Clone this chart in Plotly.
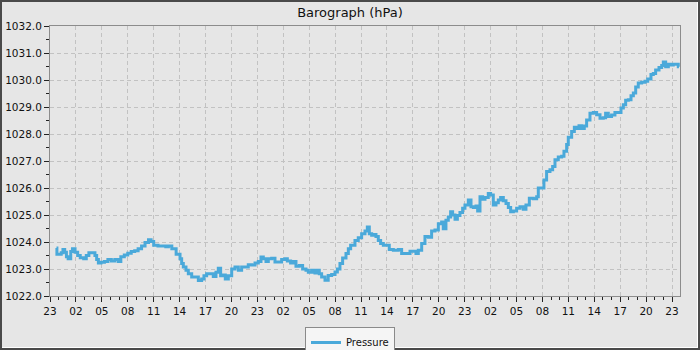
import pandas as pd
import plotly.graph_objects as go

# ---- data (hours after the first 23:00 tick, pressure hPa) ----
hours = [
    0.75, 0.8, 1.0, 1.3, 1.5, 1.7, 1.9, 2.1, 2.4, 2.6, 2.9, 3.2, 3.5, 3.9, 4.2, 4.5, 4.9, 5.2, 5.4, 5.6,
    5.9, 6.3, 6.7, 7.1, 7.5, 7.9, 8.2, 8.6, 9.0, 9.4, 9.8, 10.2, 10.6, 11.0, 11.4, 11.7, 12.0, 12.5, 13.0, 13.4,
    13.7, 14.1, 14.6, 15.05,
    15.24, 15.43, 15.74, 16.01, 16.4, 16.78, 17.17, 17.55, 17.82, 18.13, 18.52, 18.9, 19.21, 19.48, 19.75, 20.06,
    20.29, 20.64, 21.03, 21.41, 21.8, 22.18, 22.57, 22.95, 23.34, 23.73, 24.11, 24.42, 24.69, 25.0, 25.27, 25.66,
    26.04, 26.43, 26.81, 27.2, 27.47, 27.85, 28.16, 28.47, 28.86, 29.24, 29.63, 29.9, 30.28, 30.59,
    30.67, 30.94, 31.17, 31.44, 31.83, 32.2, 32.6, 32.99, 33.26, 33.56, 33.87, 34.26, 34.53, 34.8, 35.3, 35.68,
    36.07, 36.46, 36.73, 36.96, 37.23, 37.5, 37.73, 38.0, 38.27, 38.58, 38.97, 39.27, 39.74, 40.32, 40.7, 41.28,
    41.67, 42.05, 42.36, 42.63, 43.02, 43.4, 43.79, 44.17, 44.56, 44.95, 45.33,
    45.52, 45.83, 46.1, 46.37, 46.6, 46.88, 47.15, 47.45, 47.76, 48.03, 48.42, 48.73, 49.0, 49.31, 49.5, 49.77,
    50.08, 50.35, 50.73, 51.0, 51.31, 51.62, 51.89, 52.16, 52.47, 52.78, 53.05, 53.32, 53.63, 54.01, 54.4, 54.78,
    55.09, 55.48, 55.94, 56.33, 56.52, 56.9, 57.17, 57.48, 57.87, 58.18, 58.45, 58.83, 59.22, 59.49, 59.8,
    59.99, 60.38, 60.69, 60.96, 61.23, 61.53, 61.84, 62.11, 62.5, 62.89, 63.27, 63.66, 64.04, 64.31, 64.62, 65.0,
    65.39, 65.78, 66.09, 66.36, 66.63, 66.94, 67.25, 67.52, 67.79, 68.09, 68.48, 68.87, 69.18, 69.56, 69.83, 70.1,
    70.49, 70.8, 70.99, 71.26, 71.57, 71.88, 72.14, 72.53, 72.72, 72.8,
]
pressure = [
    1023.78, 1023.55, 1023.55, 1023.6, 1023.72, 1023.62, 1023.45, 1023.38, 1023.65, 1023.75, 1023.62, 1023.5,
    1023.42, 1023.38, 1023.5, 1023.6, 1023.6, 1023.5, 1023.35, 1023.22, 1023.25, 1023.28, 1023.35, 1023.3,
    1023.35, 1023.28, 1023.45, 1023.52, 1023.58, 1023.65, 1023.68, 1023.75, 1023.85, 1023.98, 1024.08, 1024.02,
    1023.88, 1023.85, 1023.85, 1023.82, 1023.85, 1023.75, 1023.55, 1023.38,
    1023.2, 1023.07, 1022.95, 1022.82, 1022.7, 1022.7, 1022.57, 1022.63, 1022.75, 1022.82, 1022.82, 1022.72,
    1022.88, 1023.03, 1022.75, 1022.78, 1022.63, 1022.75, 1023.0, 1023.07, 1022.95, 1023.07, 1023.07, 1023.16,
    1023.15, 1023.22, 1023.28, 1023.44, 1023.38, 1023.28, 1023.38, 1023.4, 1023.26, 1023.26, 1023.35, 1023.38,
    1023.3, 1023.22, 1023.28, 1023.1, 1023.13, 1023.0, 1022.95, 1022.88, 1022.95, 1022.88,
    1022.85, 1022.95, 1022.82, 1022.7, 1022.58, 1022.76, 1022.8, 1022.89, 1023.0, 1023.2, 1023.41, 1023.57,
    1023.75, 1023.88, 1024.06, 1024.16, 1024.31, 1024.41, 1024.56, 1024.31, 1024.25, 1024.28, 1024.2, 1024.06,
    1023.94, 1023.88, 1023.88, 1023.72, 1023.69, 1023.72, 1023.57, 1023.57, 1023.66, 1023.66, 1023.57, 1023.69,
    1023.94, 1024.2, 1024.18, 1024.41, 1024.44, 1024.68, 1024.74,
    1024.49, 1024.81, 1024.93, 1025.12, 1025.0, 1024.84, 1024.98, 1025.09, 1025.25, 1025.37, 1025.56, 1025.31,
    1025.28, 1025.33, 1025.15, 1025.68, 1025.58, 1025.65, 1025.8, 1025.74, 1025.37, 1025.45, 1025.56, 1025.65,
    1025.53, 1025.43, 1025.28, 1025.12, 1025.15, 1025.25, 1025.31, 1025.21, 1025.37, 1025.62, 1025.6, 1025.68,
    1026.0, 1026.0, 1026.3, 1026.61, 1026.68, 1026.8, 1027.05, 1027.15, 1027.18, 1027.36, 1027.61,
    1027.88, 1028.09, 1028.25, 1028.2, 1028.31, 1028.2, 1028.3, 1028.52, 1028.77, 1028.8, 1028.71, 1028.58,
    1028.6, 1028.77, 1028.65, 1028.7, 1028.8, 1028.8, 1028.96, 1029.08, 1029.25, 1029.27, 1029.42, 1029.52,
    1029.74, 1029.89, 1029.92, 1029.95, 1030.04, 1030.2, 1030.24, 1030.37, 1030.46, 1030.54, 1030.67, 1030.49,
    1030.58, 1030.56, 1030.58, 1030.58, 1030.49, 1030.49,
]
series_name = "Pressure"
title_text = "Barograph (hPa)"
start_time = "2024-03-10 23:00"
span_hours = 72.92
y_range = [1022.0, 1032.0]

base = pd.Timestamp(start_time)
times = base + pd.to_timedelta(hours, unit="h")

W, H = 700, 350
ML, MR, MT, MB = 50, 20, 26, 54
PW, PH = W - ML - MR, H - MT - MB


def px_x(px):
    return (px - ML) / PW


def px_y(py):
    return (H - MB - py) / PH


BG = "#e6e6e6"
LINE = "#4aa9da"
GRID = "#c2c2c2"
AXIS = "#8c8c8c"
FONT = "DejaVu Sans"

fig = go.Figure()
fig.add_trace(go.Scatter(
    x=times, y=pressure, mode="lines", name=series_name,
    line=dict(color=LINE, width=3, shape="hv"),
    showlegend=True,
))

fig.update_layout(
    width=W, height=H,
    margin=dict(l=ML, r=MR, t=MT, b=MB, pad=0, autoexpand=False),
    paper_bgcolor=BG, plot_bgcolor=BG,
    font=dict(family=FONT, size=10.5, color="#111111"),
    title=dict(text=title_text, x=0.5, xref="container", xanchor="center",
               y=1 - 12.5 / H, yref="container", yanchor="middle",
               font=dict(family=FONT, size=13, color="#111111"),
               automargin=False),
    showlegend=True,
    legend=dict(orientation="h", x=0.5, xref="container", xanchor="center",
                y=1 - 327 / H, yref="container", yanchor="top",
                bgcolor="#f5f5f5", bordercolor="#8a8a8a", borderwidth=1,
                font=dict(family=FONT, size=10, color="#111111"),
                itemwidth=30),
    xaxis=dict(
        type="date", automargin=False,
        range=[base, base + pd.Timedelta(hours=span_hours)],
        tick0=base, dtick=3 * 3600 * 1000, tickformat="%H",
        ticks="outside", ticklen=5, tickcolor="#222222", tickwidth=1,
        showline=True, linecolor=AXIS, linewidth=1, mirror=True,
        showgrid=True, gridcolor=GRID, gridwidth=1, griddash="4px,3px",
        zeroline=False,
        minor=dict(dtick=3600 * 1000, tick0=base, ticks="outside", ticklen=3,
                   tickcolor="#222222", showgrid=False),
        tickfont=dict(family=FONT, size=10.5, color="#111111"),
    ),
    yaxis=dict(
        range=y_range, dtick=1.0, tick0=1022.0, tickformat=".1f", automargin=False,
        ticks="outside", ticklen=5, tickcolor="#222222", tickwidth=1,
        showline=True, linecolor=AXIS, linewidth=1, mirror=True,
        showgrid=True, gridcolor=GRID, gridwidth=1, griddash="4px,3px",
        zeroline=False,
        minor=dict(dtick=0.5, ticks="outside", ticklen=3, tickcolor="#222222", showgrid=False),
        tickfont=dict(family=FONT, size=10.5, color="#111111"),
    ),
    shapes=[
        dict(type="rect", xref="paper", yref="paper",
             x0=px_x(1), x1=px_x(W - 1), y0=px_y(H - 1), y1=px_y(1),
             line=dict(color="#4a4a4a", width=2), fillcolor="rgba(0,0,0,0)", layer="above"),
        dict(type="line", xref="paper", yref="paper",
             x0=px_x(W - 2.5), x1=px_x(W - 2.5), y0=px_y(H - 2), y1=px_y(2),
             line=dict(color="#ffffff", width=1), layer="above"),
        dict(type="line", xref="paper", yref="paper",
             x0=px_x(2), x1=px_x(W - 2), y0=px_y(H - 2.5), y1=px_y(H - 2.5),
             line=dict(color="#ffffff", width=1), layer="above"),
    ],
)

fig.write_html("out.html")
